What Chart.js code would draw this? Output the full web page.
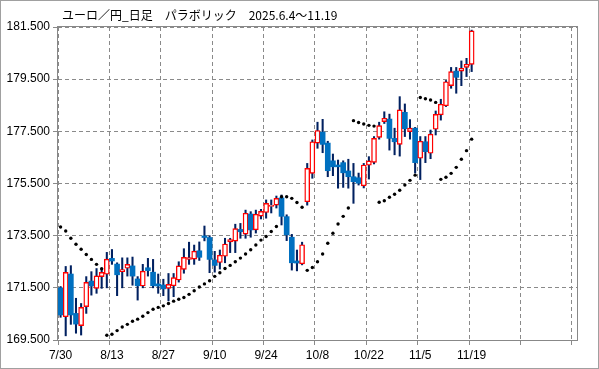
<!DOCTYPE html>
<html><head><meta charset="utf-8">
<script src="https://cdn.jsdelivr.net/npm/chart.js@4.4.1/dist/chart.umd.min.js"></script>
<style>html,body{margin:0;padding:0;background:#fff;overflow:hidden}#wrap{width:599px;height:369px;position:relative}canvas{display:block}</style>
</head><body><div id="wrap"><canvas id="c" width="599" height="369"></canvas></div>
<script>
const titleText = 'ユーロ／円_日足　パラボリック　2025.6.4～11.19';

const dates = ['7/30','7/31','8/1','8/4','8/5','8/6','8/7','8/8','8/11','8/12',
 '8/13','8/14','8/15','8/18','8/19','8/20','8/21','8/22','8/25','8/26',
 '8/27','8/28','8/29','9/1','9/2','9/3','9/4','9/5','9/8','9/9',
 '9/10','9/11','9/12','9/15','9/16','9/17','9/18','9/19','9/22','9/23',
 '9/24','9/25','9/26','9/29','9/30','10/1','10/2','10/3','10/6','10/7',
 '10/8','10/9','10/10','10/13','10/14','10/15','10/16','10/17','10/20','10/21',
 '10/22','10/23','10/24','10/27','10/28','10/29','10/30','10/31','11/3','11/4',
 '11/5','11/6','11/7','11/10','11/11','11/12','11/13','11/14','11/17','11/18',
 '11/19'];
const futureSlots = ['','','','','','','','','','','','','','','','','','','',''];

const openP = [171.50,170.39,172.03,170.52,170.05,170.78,171.76,171.48,171.93,172.02,
 172.63,172.41,172.12,172.25,172.34,171.84,171.57,172.27,172.10,171.65,
 171.61,171.48,171.58,171.80,172.21,172.59,172.60,172.92,173.49,173.43,
 172.57,172.47,172.71,173.26,173.29,173.74,173.56,174.33,173.72,174.25,
 174.39,174.62,174.67,174.95,174.23,173.44,172.53,172.42,174.80,175.89,
 177.05,177.47,177.05,176.37,176.21,176.30,175.98,175.76,175.72,175.41,
 176.20,176.31,177.27,177.87,177.97,177.23,177.00,178.23,177.49,177.62,
 176.47,177.10,176.66,177.58,178.13,178.48,179.25,179.81,179.81,179.95,
 180.07];
const highP = [171.55,172.32,172.35,171.10,170.90,171.93,172.12,172.24,172.24,172.86,
 172.97,172.46,172.65,172.65,172.68,171.93,172.40,172.63,172.59,172.03,
 171.83,172.05,172.05,172.50,173.00,173.25,173.14,173.26,173.87,173.50,
 172.90,172.95,173.40,173.40,173.94,173.97,174.48,174.42,174.48,174.51,
 174.87,174.87,175.02,175.06,174.30,173.55,172.95,173.25,176.27,177.17,
 177.85,177.96,177.12,176.63,176.40,176.37,176.43,176.27,175.90,176.27,
 176.53,177.30,177.85,178.25,178.16,177.62,178.83,178.55,177.95,177.65,
 177.30,177.30,177.55,178.28,178.73,179.45,179.95,179.95,180.20,180.30,
 181.38];
const lowP = [170.37,169.66,170.10,169.76,169.69,170.52,171.22,171.29,171.48,171.50,
 172.40,171.20,171.50,171.95,171.60,171.03,171.50,171.95,171.50,171.29,
 171.20,171.00,171.16,171.72,172.06,172.40,172.40,172.55,173.30,172.08,
 172.10,172.22,172.46,172.85,172.85,173.40,173.40,173.44,173.60,174.14,
 174.17,174.37,174.56,173.91,173.31,172.18,172.15,172.38,174.67,175.70,
 176.85,176.68,175.76,175.80,175.32,175.35,175.32,174.74,175.44,175.33,
 175.67,176.25,177.20,177.80,176.78,176.60,176.55,177.30,177.20,175.90,
 175.65,176.30,176.45,177.36,177.93,178.45,179.15,178.96,179.25,179.60,
 179.79];
const closeP = [170.46,172.09,170.46,170.11,170.75,171.71,171.57,171.96,172.09,172.60,
 172.53,172.00,172.20,172.40,171.95,171.58,172.14,172.16,171.58,171.57,
 171.46,171.63,171.89,172.34,172.67,172.66,172.91,172.67,173.43,172.59,
 172.36,172.75,173.18,173.35,173.77,173.65,174.36,173.72,174.32,174.43,
 174.74,174.67,174.93,174.24,173.53,172.46,172.45,173.15,176.08,177.10,
 177.53,177.00,175.99,176.14,176.14,175.91,175.76,175.57,175.51,176.21,
 176.37,177.23,177.72,178.00,177.23,177.10,178.32,177.60,177.62,176.30,
 177.12,176.72,177.39,178.15,178.54,179.40,179.79,179.57,179.92,180.07,
 181.35];
const sarP = [173.83,173.68,173.40,173.17,172.98,172.78,172.59,172.40,172.23,169.68,
 169.72,169.86,170.00,170.10,170.22,170.30,170.41,170.55,170.68,170.75,
 170.81,170.90,170.99,171.06,171.13,171.25,171.39,171.53,171.65,171.77,
 171.94,172.08,172.24,172.36,172.50,172.64,172.80,172.96,173.14,173.33,
 173.47,173.66,173.85,174.99,174.99,174.93,174.77,174.59,172.17,172.28,
 172.50,172.80,173.21,173.59,173.95,174.24,174.56,177.91,177.84,177.78,
 177.73,177.70,174.78,174.84,174.97,175.09,175.24,175.44,175.62,175.82,
 178.80,178.75,178.70,178.61,175.66,175.74,175.89,176.12,176.43,176.76,
 177.20];

const yTicks = [169.5,171.5,173.5,175.5,177.5,179.5,181.5];
const xLabelEvery = 10;

const categories = dates.concat(futureSlots);
const gridGray = '#8a8a8a';
const isUp = i => closeP[i] >= openP[i];

const framePlugin = {
  id: 'frame',
  afterDraw(chart) {
    const {ctx, chartArea: a} = chart;
    ctx.save();
    ctx.strokeStyle = '#888888';
    ctx.lineWidth = 1;
    ctx.strokeRect(Math.round(a.left) - 0.5, Math.round(a.top) - 0.5, Math.round(a.right - a.left) + 1, Math.round(a.bottom - a.top) + 1);
    ctx.strokeStyle = '#a0a0a0';
    ctx.strokeRect(0.5, 0.5, chart.width - 1, chart.height - 1);
    ctx.fillStyle = '#000';
    ctx.font = '12px "Noto Sans CJK JP"';
    ctx.textBaseline = 'middle';
    ctx.textAlign = 'left';
    ctx.fillText(titleText, 62, 15);
    ctx.restore();
  }
};

new Chart(document.getElementById('c'), {
  type: 'bar',
  data: {
    labels: categories,
    datasets: [
      {
        type: 'line',
        data: sarP,
        showLine: false,
        pointRadius: 1.7,
        pointHoverRadius: 0,
        pointBackgroundColor: '#000',
        pointBorderWidth: 0,
        order: 0
      },
      {
        data: openP.map((o, i) => [o, closeP[i]]),
        backgroundColor: c => isUp(c.dataIndex) ? '#ffffff' : '#0070c0',
        borderColor: c => isUp(c.dataIndex) ? '#ff0000' : '#0070c0',
        borderWidth: c => isUp(c.dataIndex) ? 1.4 : 0,
        borderSkipped: false,
        barThickness: 5,
        grouped: false,
        order: 1
      },
      {
        data: lowP.map((l, i) => [l, highP[i]]),
        backgroundColor: '#002060',
        borderWidth: 0,
        barThickness: 1.4,
        grouped: false,
        order: 2
      }
    ]
  },
  options: {
    responsive: false,
    animation: false,
    devicePixelRatio: 1,
    layout: { padding: { top: 27, right: 22, left: 0, bottom: 0 } },
    plugins: { legend: { display: false }, tooltip: { enabled: false }, title: { display: false } },
    scales: {
      x: {
        type: 'category',
        offset: true,
        afterFit: s => { s.height = 29; },
        grid: {
          offset: true,
          color: c => (c.index % xLabelEvery === 0 && c.index < categories.length) ? gridGray : 'rgba(0,0,0,0)',
          tickColor: c => (c.index % xLabelEvery === 0 && c.index < categories.length) ? gridGray : 'rgba(0,0,0,0)',
          lineWidth: 1,
          tickLength: 5,
          tickBorderDash: []
        },
        border: { display: false, dash: [4, 3] },
        ticks: {
          autoSkip: false,
          maxRotation: 0,
          minRotation: 0,
          padding: 3,
          color: '#000',
          font: { family: 'Liberation Sans', size: 12 },
          callback: function (v, i) { return (i % xLabelEvery === 0 && i < dates.length) ? this.getLabelForValue(v) : ''; }
        }
      },
      y: {
        min: 169.5,
        max: 181.5,
        afterFit: s => { s.width = 58; },
        afterBuildTicks: s => { s.ticks = yTicks.map(v => ({ value: v })); },
        grid: { color: gridGray, lineWidth: 1, tickLength: 5, tickBorderDash: [] },
        border: { display: false, dash: [4, 3] },
        ticks: {
          padding: 3,
          color: '#000',
          font: { family: 'Liberation Sans', size: 12 },
          callback: v => Number(v).toFixed(3)
        }
      }
    }
  },
  plugins: [framePlugin]
});
</script>
</body></html>
